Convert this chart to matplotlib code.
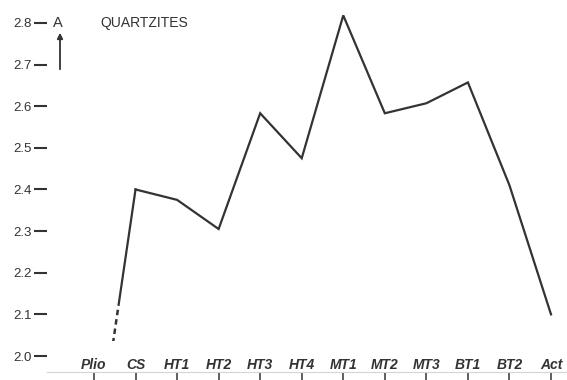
import matplotlib
matplotlib.use('Agg')  # sin ventanas
import matplotlib.pyplot as plt
from matplotlib.patches import Rectangle

# Datos
etapas = ['Plio', 'CS', 'HT1', 'HT2', 'HT3', 'HT4', 'MT1', 'MT2', 'MT3', 'BT1', 'BT2', 'Act']
valores = [1.72, 2.40, 2.375, 2.305, 2.583, 2.475, 2.818, 2.583, 2.607, 2.657, 2.41, 2.10]
ticks_y = [2.0, 2.1, 2.2, 2.3, 2.4, 2.5, 2.6, 2.7, 2.8]

COLOR = '#333333'
plt.rcParams['font.family'] = ['Liberation Sans', 'DejaVu Sans']

fig = plt.figure(figsize=(5.67, 3.80), dpi=100)
ax = fig.add_axes([47 / 567, 8 / 380, 520 / 567, 372 / 380])
x = list(range(len(etapas)))

ax.set_xlim(-1.131, 11.385)
ax.set_ylim(1.9616, 2.855)

# Linea principal desde CS
ax.plot(x[1:], valores[1:], color=COLOR, lw=1.6, solid_joinstyle='miter')

# Tramo Plio-CS: solo se ve una parte, con trazos al final
tramo_solido, = ax.plot(x[:2], valores[:2], color=COLOR, lw=1.6)
tramo_solido.set_clip_path(Rectangle((-2, 2.122), 20, 2, transform=ax.transData))
tramo_trazos, = ax.plot(x[:2], valores[:2], color=COLOR, lw=1.8, linestyle=(0, (2.2, 1.6)))
tramo_trazos.set_clip_path(Rectangle((-2, 2.035), 20, 0.087, transform=ax.transData))

# Eje Y
ax.set_yticks(ticks_y)
ax.set_yticklabels([f'{v:.1f}' for v in ticks_y])
ax.tick_params(axis='y', direction='out', length=9.4, width=1.5, pad=1.5,
               labelsize=9.5, color=COLOR, labelcolor=COLOR)

# Eje X: marcas hacia abajo, etiquetas encima
ax.set_xticks(x)
ax.set_xticklabels([])
ax.tick_params(axis='x', direction='out', length=5.8, width=1.1, color=COLOR)
for i, etapa in enumerate(etapas):
    ax.text(i, 1.979, etapa, ha='center', va='center', fontsize=10,
            fontstyle='italic', fontweight='bold', color=COLOR, clip_on=False)

for lado in ['top', 'right', 'left']:
    ax.spines[lado].set_visible(False)
ax.spines['bottom'].set_color('#d5d5d5')
ax.spines['bottom'].set_linewidth(0.8)

# Titulo y flecha
fig.text(100 / 567, 1 - 23 / 380, 'QUARTZITES', ha='left', va='center',
         fontsize=10, color=COLOR)
fig.text(58 / 567, 1 - 23 / 380, 'A', ha='center', va='center',
         fontsize=10.5, color=COLOR)
ax.annotate('', xy=(60, 380 - 30), xytext=(60, 380 - 72), xycoords='figure pixels',
            textcoords='figure pixels',
            arrowprops=dict(arrowstyle='-|>', lw=1.3, color=COLOR, mutation_scale=8))

fig.savefig('out.png', dpi=100, facecolor='white')
plt.close(fig)
